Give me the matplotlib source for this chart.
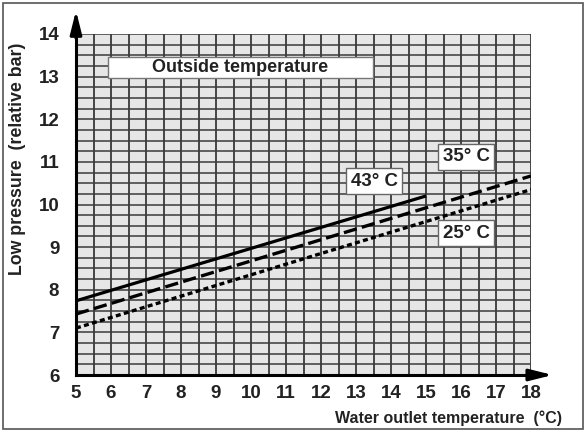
import matplotlib
matplotlib.use("Agg")
import matplotlib.pyplot as plt
import numpy as np
from matplotlib.patches import Rectangle

plt.rcParams['font.family'] = ['Liberation Sans', 'DejaVu Sans']

# data
x_43 = [5, 15]
p_43 = [7.74, 10.20]
x_35 = [5, 18]
p_35 = [7.43, 10.67]
x_25 = [5, 18]
p_25 = [7.10, 10.35]

x_ticks = list(range(5, 19))
y_ticks = list(range(6, 15))
x_marks = [10, 15]   # small tick marks below the x axis
y_marks = [10]       # small tick mark left of the y axis

text_col = '#222222'

fig = plt.figure(figsize=(5.85, 4.32), dpi=100)
ax = fig.add_axes([76 / 585, 1 - 375 / 432, 455 / 585, 341 / 432])
ax.set_xlim(5, 18)
ax.set_ylim(6, 14)
ax.set_facecolor('#e6e6e6')

# grid
for xv in np.arange(5.5, 18.01, 0.5):
    ax.axvline(xv, color='#1a1a1a', lw=1.1, zorder=1)
for yv in np.arange(6.25, 14.01, 0.25):
    ax.axhline(yv, color='#3a3a3a', lw=1.1, zorder=1)

ax.spines['top'].set_visible(False)
ax.spines['right'].set_visible(False)
ax.spines['left'].set_linewidth(2.2)
ax.spines['bottom'].set_linewidth(2.2)
ax.spines['left'].set_zorder(5)
ax.spines['bottom'].set_zorder(5)

ax.plot(x_43, p_43, color='black', lw=2.3, solid_capstyle='butt', zorder=4)
ax.plot(x_35, p_35, color='black', lw=2.4, dashes=(4, 1.6), zorder=4)
ax.plot(x_25, p_25, color='black', lw=2.4, dashes=(1.5, 1.0), zorder=4)

# title box
title_box = Rectangle((5.91, 12.97), 7.58, 0.49, facecolor='white',
                      edgecolor='#777777', linewidth=1.0, zorder=10)
ax.add_patch(title_box)
ax.text(9.7, 13.22, 'Outside temperature', ha='center', va='center',
        fontsize=13, fontweight='bold', color=text_col, zorder=11)

box = dict(boxstyle='square,pad=0.25', fc='white', ec='#666666', lw=1.0)
ax.text(13.52, 10.55, '43° C', ha='center', va='center', fontsize=13.5,
        fontweight='bold', color=text_col, zorder=11, bbox=box)
ax.text(16.15, 11.12, '35° C', ha='center', va='center', fontsize=13.5,
        fontweight='bold', color=text_col, zorder=11, bbox=box)
ax.text(16.15, 9.33, '25° C', ha='center', va='center', fontsize=13.5,
        fontweight='bold', color=text_col, zorder=11, bbox=box)

ax.set_xticks(x_ticks)
ax.set_yticks(y_ticks)
ax.set_xticklabels([str(v) for v in x_ticks], fontsize=13.5, fontweight='bold',
                   color=text_col)
ax.set_yticklabels([str(v) for v in y_ticks], fontsize=13.5, fontweight='bold',
                   color=text_col)
ax.set_xticks(x_marks, minor=True)
ax.set_yticks(y_marks, minor=True)
ax.tick_params(which='major', length=0, pad=7)
ax.tick_params(axis='y', which='major', pad=12)
ax.tick_params(which='minor', length=5, width=1.0, color='#333333')

# arrows on axes
ax.annotate('', xy=(5, 14.55), xytext=(5, 13.9), annotation_clip=False,
            arrowprops=dict(arrowstyle='-|>,head_length=1.4,head_width=0.35',
                            color='black', lw=2.2, shrinkA=0, shrinkB=0))
ax.annotate('', xy=(18.62, 6), xytext=(17.9, 6), annotation_clip=False,
            arrowprops=dict(arrowstyle='-|>,head_length=1.4,head_width=0.35',
                            color='black', lw=2.2, shrinkA=0, shrinkB=0))

fig.text(562 / 585, 1 - 418 / 432, 'Water outlet temperature  (°C)', ha='right',
         va='center', fontsize=11.5, fontweight='bold', color=text_col)
fig.text(18 / 585, 1 - 159 / 432, 'Low pressure  (relative bar)', ha='center',
         va='center', rotation=90, fontsize=12.8, fontweight='bold',
         color=text_col)

fig.patches.append(Rectangle((3 / 585, 3 / 432), 580 / 585, 426 / 432,
                             transform=fig.transFigure, fill=False,
                             ec='#555555', lw=1.2))

fig.savefig('out.png', dpi=100)
